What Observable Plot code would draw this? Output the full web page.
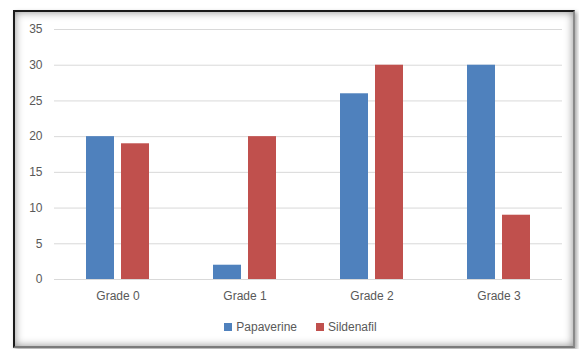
<!DOCTYPE html>
<html>
<head>
<meta charset="utf-8">
<script src="https://cdn.jsdelivr.net/npm/d3@7"></script>
<script src="https://cdn.jsdelivr.net/npm/@observablehq/plot@0.6"></script>
<style>
  html, body { margin: 0; padding: 0; background: #fff; }
  #wrap { position: relative; width: 579px; height: 349px; overflow: hidden; font-family: "Liberation Sans", Arial, sans-serif; }
  #frame { position: absolute; left: 13px; top: 10px; width: 558px; height: 334px;
    border-top: 2px solid #1a1a1a; border-left: 2px solid #1a1a1a; border-right: 2px solid #8a8a8a; border-bottom: 2px solid #7a7a7a;
    box-shadow: inset 0 0 9px rgba(0,0,0,0.45), 2px 2px 4px rgba(0,0,0,0.35); }
  #chart { position: absolute; left: 0; top: 0; }
  #legend { position: absolute; top: 320px; left: 0; width: 579px; display: flex; justify-content: center; gap: 19px; font-size: 12px; color: #595959; padding-left: 22px; box-sizing: border-box; }
  #legend span.item { display: flex; align-items: center; gap: 4px; }
  #legend i { display: inline-block; width: 8px; height: 8px; }
</style>
</head>
<body>
<div id="wrap">
  <div id="frame"></div>
  <div id="chart"></div>
  <div id="legend"></div>
</div>
<script>
const grades = ["Grade 0", "Grade 1", "Grade 2", "Grade 3"];
const seriesNames = ["Papaverine", "Sildenafil"];
const papaverine = [20, 2, 26, 30];
const sildenafil = [19, 20, 30, 9];
const colors = ["#4F81BD", "#C0504D"];
const yTicks = [0, 5, 10, 15, 20, 25, 30, 35];

const data = [];
grades.forEach((g, i) => {
  data.push({grade: g, series: seriesNames[0], value: papaverine[i]});
  data.push({grade: g, series: seriesNames[1], value: sildenafil[i]});
});

const chart = Plot.plot({
  width: 579,
  height: 310,
  marginLeft: 52,
  marginRight: 16,
  marginTop: 29,
  marginBottom: 31,
  style: {fontFamily: "'Liberation Sans', Arial, sans-serif", fontSize: "12px", color: "#595959", background: "transparent"},
  fx: {domain: grades, padding: 0, axis: "bottom", tickSize: 0, tickPadding: 12, label: null},
  x: {domain: seriesNames, axis: null, paddingInner: 0.194, paddingOuter: 0.875},
  y: {domain: [0, 35], ticks: yTicks, tickSize: 0, tickPadding: 12, label: null, line: false},
  color: {domain: seriesNames, range: colors},
  marks: [
    Plot.ruleY(yTicks, {stroke: "#d9d9d9", strokeWidth: 1}),
    Plot.barY(data, {fx: "grade", x: "series", y: "value", fill: "series", inset: 0}),
    Plot.axisY({ticks: yTicks, tickSize: 0, tickPadding: 12, label: null, fill: "#595959"})
  ]
});
document.getElementById("chart").appendChild(chart);

const legend = document.getElementById("legend");
seriesNames.forEach((s, i) => {
  const item = document.createElement("span");
  item.className = "item";
  const sw = document.createElement("i");
  sw.style.background = colors[i];
  item.appendChild(sw);
  const t = document.createElement("span");
  t.textContent = s;
  item.appendChild(t);
  legend.appendChild(item);
});
</script>
</body>
</html>
